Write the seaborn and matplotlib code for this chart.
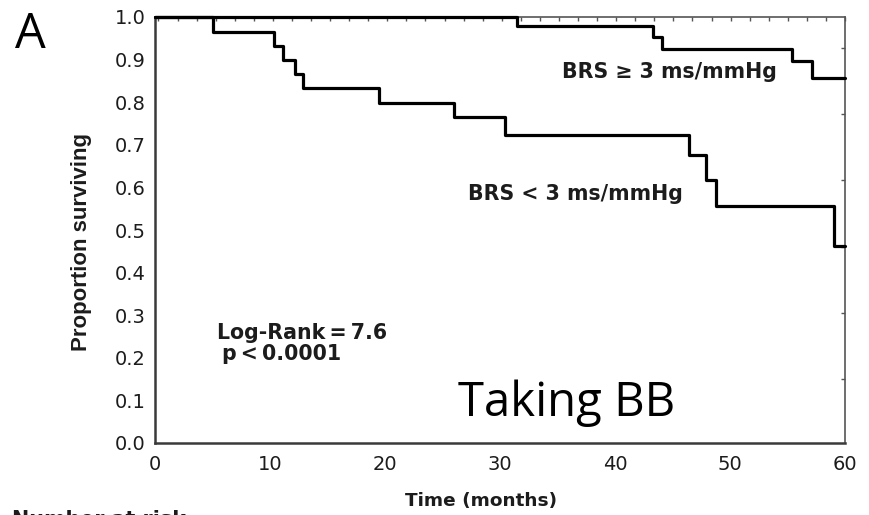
import numpy as np
import pandas as pd
import matplotlib
matplotlib.use("Agg")
import matplotlib.pyplot as plt
import seaborn as sns

# Kaplan-Meier step estimates (time in months, proportion surviving)
high_brs_time = [0, 31.5, 43.3, 44.1, 55.4, 57.1, 60]
high_brs_surv = [1.0, 0.979, 0.953, 0.925, 0.897, 0.857, 0.857]

low_brs_time = [0, 5.0, 10.35, 11.1, 12.2, 12.9, 19.5, 26.0, 30.4, 46.4, 47.9, 48.8, 59.0, 60]
low_brs_surv = [1.0, 0.965, 0.931, 0.900, 0.866, 0.833, 0.798, 0.765, 0.723, 0.676, 0.617, 0.556, 0.462, 0.462]

x_ticks = [0, 10, 20, 30, 40, 50, 60]
y_ticks = [0.0, 0.1, 0.2, 0.3, 0.4, 0.5, 0.6, 0.7, 0.8, 0.9, 1.0]

df = pd.concat([
    pd.DataFrame({"time": high_brs_time, "surv": high_brs_surv, "group": "BRS >= 3"}),
    pd.DataFrame({"time": low_brs_time, "surv": low_brs_surv, "group": "BRS < 3"}),
], ignore_index=True)

sns.set_style("white")
plt.rcParams["font.family"] = ["DejaVu Sans"]

W, H = 869, 515
fig = plt.figure(figsize=(W / 100, H / 100), dpi=100)
ax = fig.add_axes([155 / W, 1 - 443 / H, 690 / W, 426 / H])

sns.lineplot(data=df, x="time", y="surv", hue="group", palette=["black", "black"],
             estimator=None, sort=False, drawstyle="steps-post", linewidth=2.3,
             legend=False, ax=ax, clip_on=False, zorder=5)

ax.set_xlim(0, 60)
ax.set_ylim(0, 1.0)
ax.set_xticks(x_ticks)
ax.set_yticks(y_ticks)
ax.set_xticklabels([str(v) for v in x_ticks])
ax.set_yticklabels([f"{v:.1f}" for v in y_ticks])
ax.set_xlabel("")
ax.set_ylabel("")

text_col = "#1c1c1c"
ax.tick_params(axis="both", direction="in", length=3, width=1, color="#555555",
               labelsize=14, labelcolor=text_col)
ax.tick_params(axis="y", pad=7)
ax.tick_params(axis="x", pad=8.5)

for side in ["left", "bottom"]:
    ax.spines[side].set_linewidth(1.8)
    ax.spines[side].set_color("#3a3a3a")
for side in ["top", "right"]:
    ax.spines[side].set_linewidth(1.2)
    ax.spines[side].set_color("#555555")
    ax.spines[side].set_visible(True)

# fine tick marks along the top and right frame
top = ax.secondary_xaxis("top")
top.set_xticks(np.linspace(0.3, 60, 37))
top.tick_params(direction="in", length=3, width=1, color="#555555", labeltop=False)
top.spines["top"].set_visible(False)
right = ax.secondary_yaxis("right")
right.set_yticks([0.927, 0.772, 0.617, 0.461, 0.305, 0.15])
right.tick_params(direction="in", length=3, width=1, color="#555555", labelright=False)
right.spines["right"].set_visible(False)

bold = dict(fontweight="bold", color=text_col)
ax.text(35.4, 0.857, "BRS \u2265 3 ms/mmHg", fontsize=14.8, ha="left", va="baseline", **bold)
ax.text(27.2, 0.570, "BRS < 3 ms/mmHg", fontsize=14.8, ha="left", va="baseline", **bold)
ax.text(5.39, 0.244, "Log-Rank\u2009=\u20097.6", fontsize=14.8, ha="left", va="baseline", **bold)
ax.text(5.83, 0.195, "p\u2009<\u20090.0001", fontsize=14.8, ha="left", va="baseline", **bold)

ax.text(26.35, 0.0634, "Taking BB", fontsize=34, ha="left", va="baseline",
        family=["Open Sans", "DejaVu Sans"], color="black")

fig.text(15 / W, 1 - 48 / H, "A", fontsize=35, ha="left", va="baseline",
         family=["Open Sans", "DejaVu Sans"], color="black")

fig.text(82 / W, 1 - 242 / H, "Proportion surviving", rotation=90, fontsize=16,
         ha="center", va="center", family=["Liberation Sans", "DejaVu Sans"], **bold)
fig.text(481 / W, 1 - 501 / H, "Time (months)", fontsize=13.3, ha="center", va="center", **bold)
fig.text(12 / W, 1 - 526 / H, "Number at risk", fontsize=14.9, ha="left", va="baseline", **bold)

fig.savefig("out.png", dpi=100, facecolor="white")
